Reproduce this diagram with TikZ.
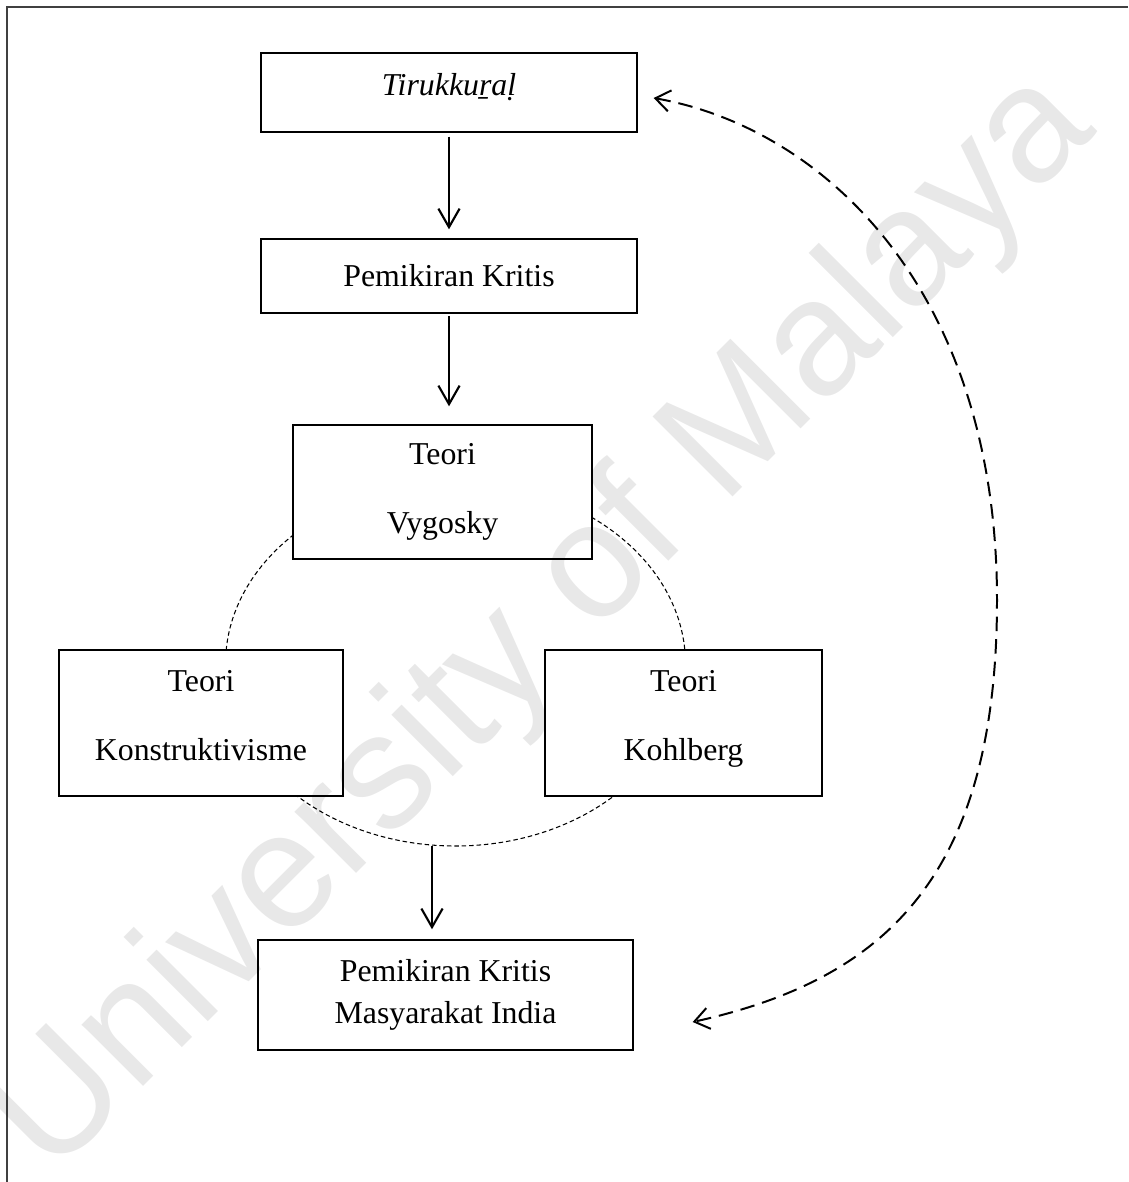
\documentclass[tikz,border=0pt]{standalone}
\usepackage{fontspec}
\setmainfont{Liberation Serif}
\newfontfamily\markfont{Liberation Sans}
\usetikzlibrary{arrows.meta,shapes.geometric,calc}

\begin{document}
\begin{tikzpicture}[x=0.377pt, y=-0.377pt,
  boxnode/.style={draw, fill=white, line width=0.5pt, inner sep=0pt, align=center,
    font={\fontsize{12pt}{26pt}\selectfont}},
  flowarrow/.style={line width=0.8pt, -{Straight Barb[length=7pt, width=8pt]}},
  ringline/.style={draw, ellipse, line width=0.4pt, dash pattern=on 1.7pt off 1.1pt,
    inner sep=0pt, outer sep=0pt},
  backarrow/.style={line width=0.75pt, dash pattern=on 5.5pt off 3pt,
    {Straight Barb[length=5.5pt, width=8pt]}-{Straight Barb[length=5.5pt, width=8pt]}}]

\newcommand{\pxu}{0.377pt}
\newcommand{\lowstrut}{\rule[-6pt]{0pt}{6pt}}

\useasboundingbox (0,0) rectangle (1128,1182);

% page frame
\draw[black!75, line width=0.75pt] (1128,7) -- (7,7) -- (7,1182);

% dashed ring behind the theory boxes
\node[ringline, minimum width={460*\pxu}, minimum height={364*\pxu}] (ring) at (455.5,664) {};

% boxes
\node[boxnode, minimum width={376*\pxu}, minimum height={79*\pxu}, text depth=6pt]
  (tiru) at (449,92.5) {\textit{Tirukkuṟaḷ}};
\node[boxnode, minimum width={376*\pxu}, minimum height={74*\pxu}]
  (kritis) at (449,276) {Pemikiran Kritis};
\node[boxnode, minimum width={299*\pxu}, minimum height={134*\pxu}]
  (vygo) at (442.5,492) {Teori\\Vygosky};
\node[boxnode, minimum width={284*\pxu}, minimum height={146*\pxu}]
  (konst) at (201,723) {Teori\\Konstruktivisme\lowstrut};
\node[boxnode, minimum width={277*\pxu}, minimum height={146*\pxu}]
  (kohl) at (683.5,723) {Teori\\Kohlberg\lowstrut};
\node[boxnode, font={\fontsize{12pt}{16pt}\selectfont}, minimum width={375*\pxu}, minimum height={110*\pxu}]
  (masy) at (445.5,995) {Pemikiran Kritis\\Masyarakat India};

% arrows down the chain
\draw[flowarrow, shorten <=1.5pt, shorten >=3.4pt] (tiru.south) -- (kritis.north);
\draw[flowarrow, shorten <=0.8pt, shorten >=6.8pt] (kritis.south) -- (kritis.south |- vygo.north);
\coordinate (foot) at ($(masy.north)+(-13.5,0)$);
\draw[flowarrow, shorten >=3.8pt] (foot |- ring.south) -- (foot);

% dashed link back to the top
\coordinate (bend) at (997,600);
\draw[backarrow] ($(tiru.east)+(16,5.5)$) .. controls +(170,30) and (997,290) .. (bend)
  .. controls (997,880) and (882,980) .. ($(masy.east)+(59,27)$);

% watermark
\begin{scope}[blend mode=multiply]
\node[font={\markfont\fontsize{62pt}{62pt}\selectfont}, text=black!9, rotate=45]
  (mark) at (545,625) {University of Malaya};
\end{scope}

\end{tikzpicture}
\end{document}
